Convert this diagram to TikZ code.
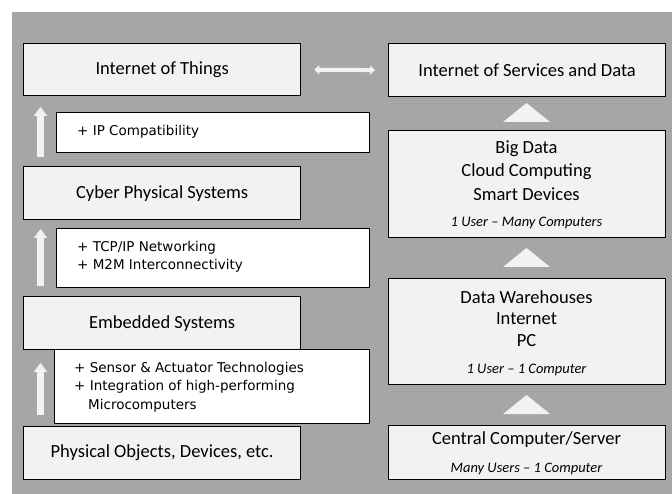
\documentclass[tikz,border=0pt]{standalone}
\usepackage{fontspec}
\setmainfont{Carlito}
\newfontfamily\plusfont{DejaVu Sans}
\usetikzlibrary{arrows.meta}
\definecolor{bg}{HTML}{A6A6A6}
\definecolor{boxfill}{HTML}{F2F2F2}
\begin{document}
\begin{tikzpicture}[x=1pt,y=-1pt,
  mainbox/.style={draw=black, line width=1.3pt, fill=boxfill, inner sep=0pt, anchor=north west, font=\fontsize{18.5}{22}\selectfont},
  plusbox/.style={draw=black, line width=1.3pt, fill=white, inner sep=0pt, anchor=north west},
  plustext/.style={anchor=west, inner sep=0pt, font=\plusfont\fontsize{13.5}{18.5}\selectfont, align=left},
  rtext/.style={inner sep=0pt, font=\fontsize{18.5}{22}\selectfont},
  itext/.style={inner sep=0pt, font=\itshape\fontsize{14.5}{17}\selectfont},
  uparrow/.style={draw=boxfill, line width=7pt, -{Triangle[width=13pt,length=9pt]}},
  dblarrow/.style={draw=boxfill, line width=4pt, {Triangle[width=9pt,length=5pt]}-{Triangle[width=9pt,length=5pt]}},
  tri/.style={fill=boxfill}
]
\useasboundingbox (0,0) rectangle (672,494);
\fill[bg] (12,12) rectangle (672,494);

% plus boxes (left column)
\node[plusbox, minimum width=313pt, minimum height=40pt] (ip) at (56,112) {};
\node[plusbox, minimum width=313pt, minimum height=59pt] (tcp) at (56,228) {};
\node[plusbox, minimum width=315pt, minimum height=74pt] (sens) at (54,349) {};

% main boxes (left column)
\node[mainbox, minimum width=277pt, minimum height=52pt] (iot) at (23,43) {Internet of Things};
\node[mainbox, minimum width=277pt, minimum height=53pt] (cps) at (23,166) {Cyber Physical Systems};
\node[mainbox, minimum width=277pt, minimum height=53pt] (emb) at (23,296) {Embedded Systems};
\node[mainbox, minimum width=277pt, minimum height=53pt] (phys) at (23,426) {Physical Objects, Devices, etc.};

% plus texts
\node[plustext] (ipt) at (77,132) {+ IP Compatibility};
\node[plustext] (tcpt) at (77,257) {+ TCP/IP Networking\\+ M2M Interconnectivity};
\node[plustext] (senst) at (74,387) {+ Sensor \& Actuator Technologies\\+ Integration of high-performing\\\hspace*{14pt}Microcomputers};

% right column boxes
\node[mainbox, minimum width=277pt, minimum height=53pt] (ios) at (388,43) {Internet of Services and Data};
\node[mainbox, minimum width=277pt, minimum height=107pt] (bd) at (388,130) {};
\node[mainbox, minimum width=277pt, minimum height=106pt] (dw) at (388,278) {};
\node[mainbox, minimum width=277pt, minimum height=54pt] (cc) at (388,425) {};

\node[rtext] (bd1) at (526.5,149) {Big Data};
\node[rtext] (bd2) at (526.5,172) {Cloud Computing};
\node[rtext] (bd3) at (526.5,194.5) {Smart Devices};
\node[itext] (bd4) at (526.5,223) {1 User -- Many Computers};

\node[rtext] (dw1) at (526.5,297) {Data Warehouses};
\node[rtext] (dw2) at (526.5,319) {Internet};
\node[rtext] (dw3) at (526.5,341) {PC};
\node[itext] (dw4) at (526.5,370) {1 User -- 1 Computer};

\node[rtext] (cc1) at (526.5,440) {Central Computer/Server};
\node[itext] (cc2) at (526.5,469) {Many Users -- 1 Computer};

% triangles
\fill[tri] (503,122) -- (526.5,103) -- (550,122) -- cycle;
\fill[tri] (503,267) -- (526.5,248) -- (550,267) -- cycle;
\fill[tri] (503,414) -- (526.5,395) -- (550,414) -- cycle;

% left up arrows
\coordinate (a1s) at (40.5,157);
\coordinate (a1e) at (40.5,107);
\coordinate (a2s) at (40.5,286);
\coordinate (a2e) at (40.5,229);
\coordinate (a3s) at (40.5,415);
\coordinate (a3e) at (40.5,363);
\draw[uparrow] (a1s) -- (a1e);
\draw[uparrow] (a2s) -- (a2e);
\draw[uparrow] (a3s) -- (a3e);

% double arrow
\draw[dblarrow, shorten <=13pt, shorten >=13pt] (iot.east) -- (ios.west);
\end{tikzpicture}
\end{document}
